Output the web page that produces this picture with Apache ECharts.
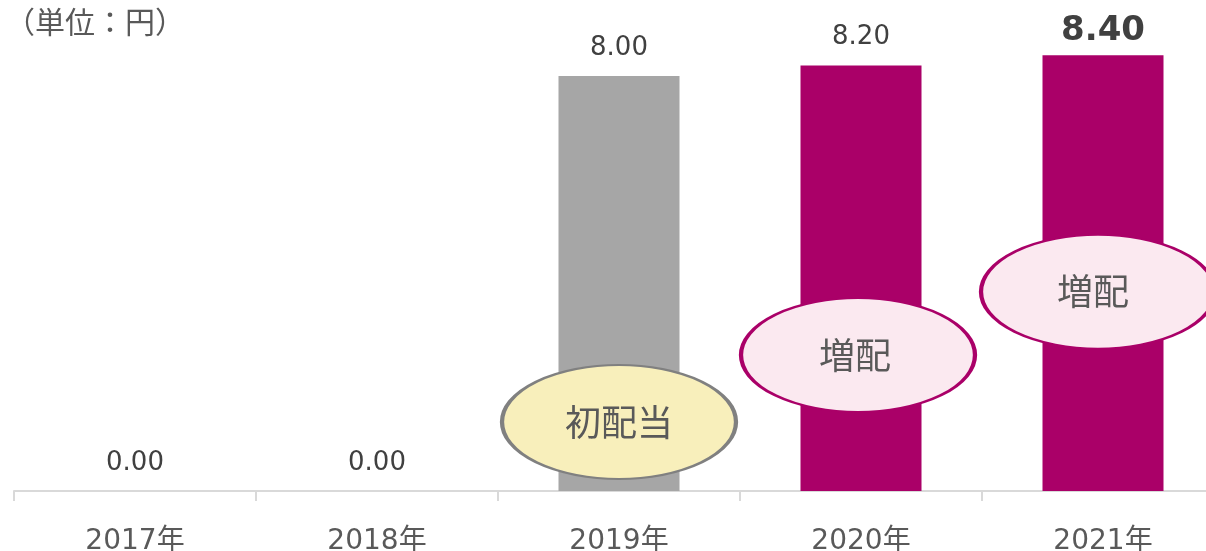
<!DOCTYPE html>
<html>
<head>
<meta charset="utf-8">
<style>
  html, body { margin: 0; padding: 0; background: #fff; }
  #chart { width: 1206px; height: 551px; }
</style>
<script src="https://cdn.jsdelivr.net/npm/echarts@6/dist/echarts.min.js"></script>
</head>
<body>
<div id="chart"></div>
<script>
// 年度
const years = ["2017年", "2018年", "2019年", "2020年", "2021年"];
// 1株当たり配当（円）
const dividends = [0, 0, 8.0, 8.2, 8.4];
// 吹き出し（初配当・増配）
const noteYears = ["2019年", "2020年", "2021年"];
const noteTexts = ["初配当", "増配", "増配"];
const noteLevels = [1.33, 2.62, 3.84];

const fontNum = "'DejaVu Sans', 'Noto Sans CJK JP', sans-serif";
const fontJp = "'Noto Sans CJK JP', sans-serif";
const gray = "#a6a6a6";
const magenta = "#aa0068";

const chart = echarts.init(document.getElementById("chart"));

const barData = dividends.map((v, i) => {
  const last = i === dividends.length - 1;
  return {
    value: v,
    itemStyle: { color: i < 3 ? gray : magenta },
    label: last
      ? { fontSize: 34, fontWeight: "bold", color: "#404040", distance: 7 }
      : {},
  };
});

const noteData = noteYears.map((y, i) => {
  const first = i === 0;
  const dx = [0, 3, 5][i];
  return {
    value: [y, noteLevels[i]],
    symbolOffset: [-dx, 0],
    itemStyle: {
      color: first ? "#f8efbb" : "#fbe9f0",
      borderColor: first ? "#808080" : magenta,
      borderWidth: 3,
      opacity: 1,
    },
    label: { formatter: noteTexts[i], offset: [-dx, 0] },
  };
});

const option = {
  backgroundColor: "#fff",
  animation: false,
  title: {
    text: "（単位：円）",
    left: 0,
    top: 2,
    textStyle: { fontFamily: fontJp, fontSize: 30, fontWeight: "normal", color: "#595959" },
  },
  grid: { left: 14, width: 1210, top: 24, bottom: 60, outerBoundsMode: "none", containLabel: false },
  xAxis: {
    type: "category",
    data: years,
    axisLine: { lineStyle: { color: "#d9d9d9", width: 2 } },
    axisTick: { show: true, length: 10, lineStyle: { color: "#d9d9d9", width: 2 } },
    axisLabel: { fontFamily: fontNum, fontSize: 28, color: "#595959", margin: 37 },
  },
  yAxis: {
    type: "value",
    min: 0,
    max: 9,
    show: false,
    splitLine: { show: false },
  },
  series: [
    {
      type: "bar",
      data: barData,
      barWidth: "50%",
      label: {
        show: true,
        position: "top",
        distance: 15,
        formatter: (p) => p.value.toFixed(2),
        fontFamily: fontNum,
        fontSize: 26,
        color: "#404040",
      },
    },
    {
      type: "scatter",
      data: noteData,
      symbol: "circle",
      symbolSize: [234, 114],
      z: 5,
      label: {
        show: true,
        position: "inside",
        fontFamily: fontJp,
        fontSize: 36,
        color: "#595959",
      },
    },
  ],
};

chart.setOption(option);
window.addEventListener("resize", () => chart.resize());
</script>
</body>
</html>
